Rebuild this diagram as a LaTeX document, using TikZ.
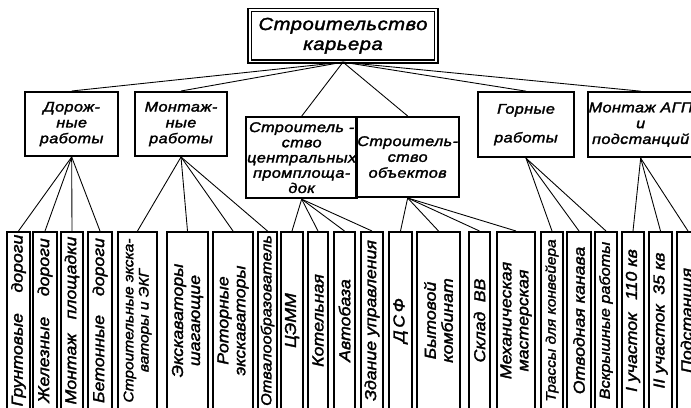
\documentclass[tikz,border=0pt]{standalone}
\usepackage{fontspec}
\newfontfamily\chertfont[FakeStretch=1.12,FakeBold=2]{Liberation Sans}
\newfontfamily\chertwide[FakeStretch=1.15,LetterSpace=3,FakeBold=2]{Liberation Sans}

\begin{document}
\begin{tikzpicture}[
    mainbox/.style={draw, double, double distance=1.6pt, line width=1.1pt, fill=white, minimum width=5.6cm, minimum height=1.55cm, align=center, font=\chertwide\itshape\fontsize{15}{17}\selectfont},
    groupbox/.style={draw, line width=1.7pt, align=center, inner sep=1pt, font=\chertwide\itshape\fontsize{12}{13.5}\selectfont},
    itembox/.style={draw, line width=1.7pt, rotate=90, minimum width=5.31cm, align=center, inner sep=1pt, font=\chertfont\itshape\fontsize{13.5}{14.5}\selectfont},
    smalltext/.style={font=\chertfont\itshape\fontsize{11.8}{13}\selectfont},
    narrowtext/.style={font=\chertfont\itshape\fontsize{12.4}{13.5}\selectfont},
    link/.style={line width=0.75pt}
]
    \clip (0,0) rectangle (20.73,-12.21);

    % top
    \node[mainbox] (karier) at (10.29,-1.07) {Строительство\\карьера};

    % groups of works
    \node[groupbox, minimum width=2.8cm, minimum height=1.92cm] (dor) at (2.15,-3.72) {Дорож-\\ные\\работы};
    \node[groupbox, minimum width=2.76cm, minimum height=1.92cm] (mon) at (5.43,-3.72) {Монтаж-\\ные\\работы};
    \node[groupbox, minimum width=3.03cm, minimum height=2.43cm, font=\chertwide\itshape\fontsize{12}{13}\selectfont] (prom) at (9.05,-4.73) {Строитель -\\ство\\центральных\\промплоща-\\док};
    \node[groupbox, minimum width=2.97cm, minimum height=2.4cm] (obj) at (12.23,-4.71) {Строитель-\\ство\\объектов};
    \node[groupbox, minimum width=2.88cm, minimum height=1.95cm] (gor) at (15.78,-3.74) {Горные\\[11pt]работы};
    \node[groupbox, minimum width=2.97cm, minimum height=1.95cm] (agp) at (19.22,-3.74) {Монтаж АГП\\и\\подстанций};

    % items
    \node[itembox, minimum height=0.69cm] (grunt) at (0.555,-9.615) {Грунтовые\hspace{1.3em}дороги};
    \node[itembox, minimum height=0.72cm] (zhel) at (1.35,-9.615) {Железные\hspace{1.3em}дороги};
    \node[itembox, minimum height=0.66cm] (montpl) at (2.16,-9.615) {Монтаж\hspace{0.9em}площадки};
    \node[itembox, minimum height=0.72cm] (beton) at (3.0,-9.615) {Бетонные\hspace{1.2em}дороги};
    \node[itembox, smalltext, minimum height=1.17cm] (stroiexc) at (4.125,-9.615) {Строительные экска-\\ваторы и ЭКГ};
    \node[itembox, minimum height=1.23cm] (shag) at (5.625,-9.615) {Экскаваторы\\шагающие};
    \node[itembox, minimum height=1.2cm] (rotor) at (6.99,-9.615) {Роторные\\экскаваторы};
    \node[itembox, narrowtext, minimum height=0.57cm] (otval) at (8.025,-9.615) {Отвалообразователь};
    \node[itembox, minimum height=0.66cm] (tsemm) at (8.76,-9.615) {ЦЭММ};
    \node[itembox, minimum height=0.6cm] (kotel) at (9.54,-9.615) {Котельная};
    \node[itembox, minimum height=0.63cm] (avto) at (10.335,-9.615) {Автобаза};
    \node[itembox, minimum height=0.66cm] (zdanie) at (11.16,-9.615) {Здание управления};
    \node[itembox, minimum height=0.69cm] (dsf) at (12.015,-9.615) {Д\,С\,Ф};
    \node[itembox, minimum height=1.29cm] (byt) at (13.155,-9.615) {Бытовой\\комбинат};
    \node[itembox, minimum height=0.63cm] (sklad) at (14.385,-9.615) {Склад\hspace{0.6em}ВВ};
    \node[itembox, minimum height=1.14cm] (mekh) at (15.48,-9.615) {Механическая\\мастерская};
    \node[itembox, smalltext, minimum height=0.66cm] (trassy) at (16.56,-9.615) {Трассы для конвейера};
    \node[itembox, minimum height=0.72cm] (kanava) at (17.37,-9.615) {Отводная канава};
    \node[itembox, narrowtext, minimum height=0.66cm] (vskr) at (18.18,-9.615) {Вскрышные работы};
    \node[itembox, minimum height=0.66cm] (uch1) at (18.99,-9.615) {I участок\hspace{0.8em}110 кв};
    \node[itembox, minimum height=0.69cm] (uch2) at (19.815,-9.615) {II участок\hspace{0.6em}35 кв};
    \node[itembox, minimum height=0.66cm] (podst) at (20.64,-9.615) {Подстанция};

    % links
    \draw[link] (karier.south) -- (dor.north);
    \draw[link] (karier.south) -- (mon.north);
    \draw[link] (karier.south) -- (prom.north);
    \draw[link] (karier.south) -- (obj.north);
    \draw[link] (karier.south) -- (gor.north);
    \draw[link] (karier.south) -- (agp.north);

    \draw[link] (dor.south) -- (grunt.east);
    \draw[link] (dor.south) -- (zhel.east);
    \draw[link] (dor.south) -- (montpl.east);
    \draw[link] (dor.south) -- (beton.east);
    \draw[link] (mon.south) -- (stroiexc.east);
    \draw[link] (mon.south) -- (shag.east);
    \draw[link] (mon.south) -- (rotor.east);
    \draw[link] (mon.south) -- (otval.east);
    \draw[link] (prom.south) -- (tsemm.east);
    \draw[link] (prom.south) -- (kotel.east);
    \draw[link] (prom.south) -- (avto.east);
    \draw[link] (prom.south) -- (zdanie.east);
    \draw[link] (obj.south) -- (dsf.east);
    \draw[link] (obj.south) -- (byt.east);
    \draw[link] (obj.south) -- (sklad.east);
    \draw[link] (obj.south) -- (mekh.east);
    \draw[link] (gor.south) -- (trassy.east);
    \draw[link] (gor.south) -- (kanava.east);
    \draw[link] (gor.south) -- (vskr.east);
    \draw[link] (agp.south) -- (uch1.east);
    \draw[link] (agp.south) -- (uch2.east);
    \draw[link] (agp.south) -- (podst.east);
\end{tikzpicture}
\end{document}
